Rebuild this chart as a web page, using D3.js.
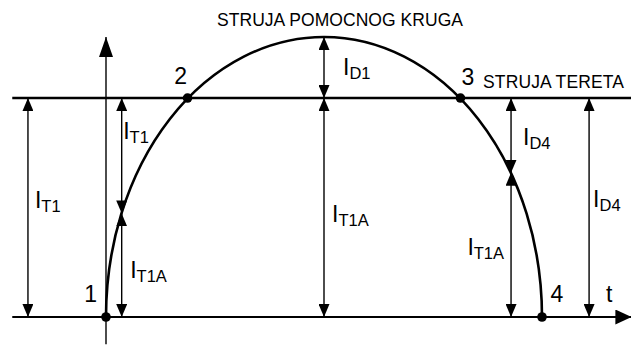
<!DOCTYPE html>
<html>
<head>
<meta charset="utf-8">
<script src="https://cdn.jsdelivr.net/npm/d3@7"></script>
<style>
  html, body { margin: 0; padding: 0; background: #fff; }
  svg { display: block; font-family: "Liberation Sans", Arial, sans-serif; }
</style>
</head>
<body>
<svg id="chart" width="631" height="345"></svg>
<script>
// ---- data (time t, current I in arbitrary units) ----
const axisTRange = [-2.15, 12.05];      // horizontal extent of t-axis and load line
const axisIRange = [-0.97, 10];         // vertical extent of the I axis
const auxCurve = { tStart: 0, tEnd: 10, peak: 10 };   // "struja pomocnog kruga" half-ellipse
const loadLevel = 7.82;                 // "struja tereta"
const pointLabels = ["1", "2", "3", "4"];
const pointT = [0, 1.87, 8.13, 10];
const pointI = [0, 7.82, 7.82, 0];
// dimension arrows: position t, from I, to I, label main + subscript
const dimT    = [-1.79, 0.36, 0.36, 5, 5, 9.29, 9.29, 11.08];
const dimFrom = [0, 3.7, 0, 7.82, 0, 5.15, 0, 0];
const dimTo   = [7.82, 7.82, 3.7, 10, 7.82, 7.82, 5.15, 7.82];
const dimMain = ["I", "I", "I", "I", "I", "I", "I", "I"];
const dimSub  = ["T1", "T1", "T1A", "D1", "T1A", "D4", "T1A", "D4"];
const titleAux = "STRUJA POMOCNOG KRUGA";
const titleLoad = "STRUJA TERETA";
const axisTLabel = "t";

// ---- layout ----
const x = d3.scaleLinear().domain([0, 10]).range([106, 542]);
const y = d3.scaleLinear().domain([0, 10]).range([317, 37]);
// label placement (pixel offsets from the dimension line / point)
const dimLabelDx = [7, 1.5, 8.5, 19, 8, 12, -7, 4];
const dimLabelY  = [208, 139, 278, 75, 222, 145, 255, 207];
const dimLabelAnchor = ["start", "start", "start", "start", "start", "start", "end", "start"];
const pointLabelDx = [-9, -7, 7.5, 15];
const pointLabelDy = [-15, -14, -13, -15];
const pointLabelAnchor = ["end", "middle", "middle", "middle"];

const svg = d3.select("#chart");
const defs = svg.append("defs");

function marker(id, len, wid) {
  defs.append("marker")
    .attr("id", id)
    .attr("viewBox", `0 0 ${len} ${wid}`)
    .attr("refX", len).attr("refY", wid / 2)
    .attr("markerWidth", len).attr("markerHeight", wid)
    .attr("markerUnits", "userSpaceOnUse")
    .attr("orient", "auto-start-reverse")
    .append("path")
    .attr("d", `M0,0 L${len},${wid / 2} L0,${wid} Z`)
    .attr("fill", "#000");
}
marker("dimArrow", 13, 11);
marker("yArrow", 20, 14);
marker("xArrow", 16, 15);

// t axis
svg.append("line")
  .attr("x1", x(axisTRange[0])).attr("x2", x(axisTRange[1]))
  .attr("y1", y(0)).attr("y2", y(0))
  .attr("stroke", "#000").attr("stroke-width", 2)
  .attr("marker-end", "url(#xArrow)");

// I axis
svg.append("line")
  .attr("x1", x(0)).attr("x2", x(0))
  .attr("y1", y(axisIRange[0])).attr("y2", y(axisIRange[1]))
  .attr("stroke", "#000").attr("stroke-width", 1.4)
  .attr("marker-end", "url(#yArrow)");

// load line
svg.append("line")
  .attr("x1", x(axisTRange[0])).attr("x2", x(axisTRange[1]))
  .attr("y1", y(loadLevel)).attr("y2", y(loadLevel))
  .attr("stroke", "#000").attr("stroke-width", 2.6);

// auxiliary current curve (half ellipse)
const rx = (x(auxCurve.tEnd) - x(auxCurve.tStart)) / 2;
const ry = y(0) - y(auxCurve.peak);
svg.append("path")
  .attr("d", `M${x(auxCurve.tStart)},${y(0)} A${rx},${ry} 0 0 1 ${x(auxCurve.tEnd)},${y(0)}`)
  .attr("fill", "none").attr("stroke", "#000").attr("stroke-width", 2.6);

// dimension arrows
dimT.forEach((t, i) => {
  svg.append("line")
    .attr("x1", x(t)).attr("x2", x(t))
    .attr("y1", y(dimFrom[i])).attr("y2", y(dimTo[i]))
    .attr("stroke", "#000").attr("stroke-width", 1.4)
    .attr("marker-start", "url(#dimArrow)")
    .attr("marker-end", "url(#dimArrow)");
  const txt = svg.append("text")
    .attr("x", x(t) + dimLabelDx[i]).attr("y", dimLabelY[i])
    .attr("text-anchor", dimLabelAnchor[i])
    .attr("font-size", 23).attr("fill", "#000");
  txt.append("tspan").text(dimMain[i]);
  txt.append("tspan").attr("font-size", 16.5).attr("dy", 3.5).text(dimSub[i]);
});

// points
pointT.forEach((t, i) => {
  svg.append("circle")
    .attr("cx", x(t)).attr("cy", y(pointI[i])).attr("r", 4.8)
    .attr("fill", "#000");
  svg.append("text")
    .attr("x", x(t) + pointLabelDx[i]).attr("y", y(pointI[i]) + pointLabelDy[i])
    .attr("text-anchor", pointLabelAnchor[i])
    .attr("font-size", 23).attr("fill", "#000")
    .text(pointLabels[i]);
});

// titles
svg.append("text")
  .attr("x", 217).attr("y", 26)
  .attr("font-size", 17.5).attr("fill", "#000")
  .attr("textLength", 246).attr("lengthAdjust", "spacing")
  .text(titleAux);
svg.append("text")
  .attr("x", 483).attr("y", 88)
  .attr("font-size", 17.5).attr("fill", "#000")
  .attr("textLength", 141).attr("lengthAdjust", "spacing")
  .text(titleLoad);
svg.append("text")
  .attr("x", 606).attr("y", 302)
  .attr("font-size", 23).attr("fill", "#000")
  .text(axisTLabel);
</script>
</body>
</html>
